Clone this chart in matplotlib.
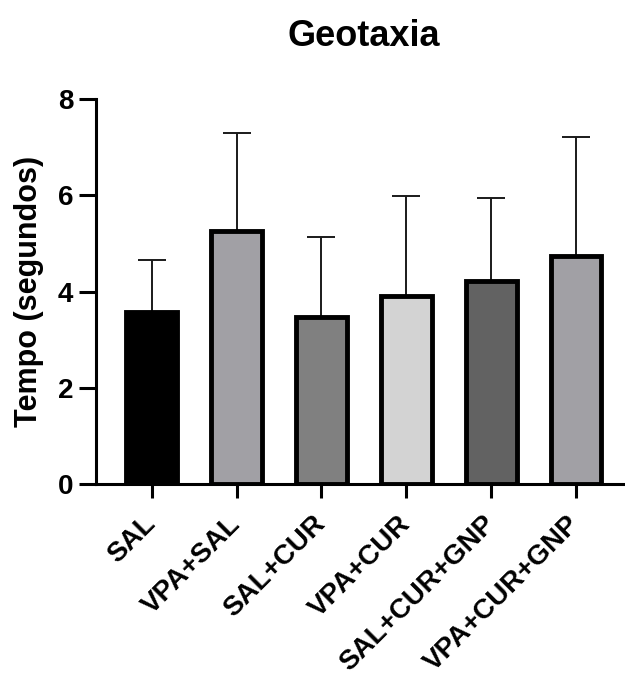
import matplotlib
matplotlib.use("Agg")
import matplotlib.pyplot as plt
import numpy as np

categories = ["SAL", "VPA+SAL", "SAL+CUR", "VPA+CUR", "SAL+CUR+GNP", "VPA+CUR+GNP"]
means = [3.58, 5.25, 3.47, 3.91, 4.22, 4.74]
sds = [1.07, 2.05, 1.66, 2.07, 1.72, 2.47]
colors = ["#000000", "#a1a0a5", "#808080", "#d3d3d3", "#626262", "#a1a0a5"]
yticks = [0, 2, 4, 6, 8]

plt.rcParams['font.family'] = ['Liberation Sans', 'DejaVu Sans']
plt.rcParams['font.weight'] = 'bold'

fig = plt.figure(figsize=(6.25, 6.77), dpi=100)
ax = fig.add_axes([95.7/625, 193/677, (632-95.7)/625, 385/677])

x = np.arange(len(categories))
ax.errorbar(x, means, yerr=[np.zeros(len(sds)), sds], fmt='none', ecolor='#1a1a1a',
            elinewidth=1.4, capsize=10, capthick=1.4, zorder=1)
ax.bar(x, means, width=0.60, color=colors, edgecolor='black', linewidth=3.5, zorder=2)

ax.set_xlim(-0.66, 5.66)
ax.set_ylim(0, 8)
ax.set_yticks(yticks)
ax.set_yticklabels([str(t) for t in yticks], fontsize=20, fontweight='bold')
ax.set_xticks(x)
ax.set_xticklabels(categories, rotation=45, ha='right', va='center', rotation_mode='anchor',
                   fontsize=20, fontweight='bold')

for s in ['top', 'right']:
    ax.spines[s].set_visible(False)
for s in ['left', 'bottom']:
    ax.spines[s].set_linewidth(2.2)
ax.tick_params(axis='y', length=12, width=2.2, pad=4)
ax.tick_params(axis='x', length=10, width=2.2, pad=16)

ax.set_ylabel("Tempo (segundos)", fontsize=22, fontweight='bold', labelpad=10)
ax.set_title("Geotaxia", fontsize=26, fontweight='bold', pad=38)

fig.savefig("out.png", dpi=100)
